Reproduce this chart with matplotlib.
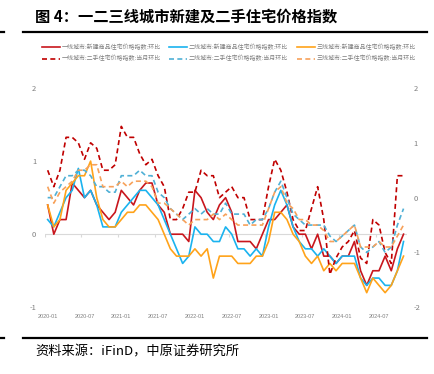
import matplotlib
matplotlib.use("Agg")
import matplotlib.pyplot as plt
from matplotlib.lines import Line2D
import numpy as np

plt.rcParams["font.family"] = ["Noto Sans CJK SC", "DejaVu Sans"]
plt.rcParams["axes.unicode_minus"] = False

# 2020-01 .. 2024-11, month-on-month %
months = ["%d-%02d" % (2020 + i // 12, i % 12 + 1) for i in range(59)]

t1_new = [0.4, 0.0, 0.2, 0.2, 0.7, 0.6, 0.5, 0.6, 0.4, 0.3,
          0.2, 0.3, 0.6, 0.5, 0.4, 0.6, 0.7, 0.7, 0.4, 0.3,
          0.0, 0.0, 0.0, -0.1, 0.6, 0.5, 0.3, 0.2, 0.4, 0.5,
          0.3, -0.1, -0.1, -0.1, -0.2, 0.0, 0.2, 0.2, 0.3, 0.4,
          0.1, 0.0, 0.0, -0.2, 0.0, -0.3, -0.3, -0.4, -0.3, -0.3,
          -0.1, -0.5, -0.7, -0.5, -0.5, -0.3, -0.5, -0.2, 0.0]
t2_new = [0.2, 0.1, 0.3, 0.5, 0.6, 0.9, 0.5, 0.6, 0.4, 0.1,
          0.1, 0.1, 0.3, 0.4, 0.5, 0.6, 0.6, 0.5, 0.4, 0.2,
          0.0, -0.2, -0.4, -0.3, 0.1, 0.0, 0.0, -0.1, -0.1, 0.1,
          0.0, -0.2, -0.2, -0.3, -0.2, -0.3, 0.1, 0.4, 0.6, 0.4,
          0.1, -0.1, -0.2, -0.2, -0.3, -0.2, -0.3, -0.4, -0.3, -0.3,
          -0.3, -0.6, -0.7, -0.6, -0.6, -0.7, -0.7, -0.5, -0.1]
t3_new = [0.4, 0.1, 0.2, 0.6, 0.7, 0.8, 0.8, 1.0, 0.5, 0.2,
          0.1, 0.1, 0.2, 0.3, 0.3, 0.4, 0.4, 0.3, 0.2, 0.0,
          -0.2, -0.3, -0.3, -0.3, -0.2, -0.3, -0.2, -0.6, -0.3, -0.3,
          -0.3, -0.4, -0.4, -0.4, -0.3, -0.3, -0.1, 0.3, 0.3, 0.2,
          0.0, -0.1, -0.3, -0.4, -0.3, -0.5, -0.4, -0.5, -0.4, -0.4,
          -0.4, -0.6, -0.8, -0.6, -0.7, -0.8, -0.7, -0.5, -0.3]
t1_old = [0.5, 0.2, 0.5, 1.1, 1.1, 1.0, 0.7, 1.0, 0.9, 0.5,
          0.5, 0.6, 1.3, 1.1, 1.1, 0.8, 0.6, 0.7, 0.4, 0.2,
          -0.4, -0.4, -0.2, 0.1, 0.1, 0.5, 0.4, 0.4, 0.0, 0.1,
          0.2, 0.0, 0.0, -0.4, -0.4, -0.4, 0.2, 0.7, 0.5, 0.1,
          -0.4, -0.6, -0.6, -0.2, 0.2, -0.4, -1.4, -1.1, -0.9, -0.8,
          -0.6, -1.1, -1.2, -0.4, -0.5, -1.0, -1.2, 0.4, 0.4]
t2_old = [0.0, 0.0, 0.2, 0.4, 0.4, 0.5, 0.5, 0.4, 0.2, 0.2,
          0.1, 0.1, 0.4, 0.4, 0.4, 0.5, 0.4, 0.4, 0.1, 0.0,
          -0.2, -0.3, -0.4, -0.3, -0.2, -0.3, -0.2, -0.3, -0.3, -0.1,
          -0.3, -0.3, -0.3, -0.5, -0.4, -0.4, -0.2, 0.1, 0.3, 0.0,
          -0.3, -0.4, -0.5, -0.5, -0.5, -0.5, -0.7, -0.8, -0.7, -0.6,
          -0.5, -0.9, -1.0, -0.9, -0.8, -1.0, -0.9, -0.5, -0.2]
t3_old = [0.2, -0.1, 0.1, 0.2, 0.3, 0.5, 0.5, 0.6, 0.6, 0.2,
          0.2, 0.2, 0.3, 0.2, 0.3, 0.3, 0.3, 0.2, -0.1, -0.1,
          -0.2, -0.3, -0.4, -0.5, -0.4, -0.4, -0.4, -0.3, -0.4, -0.3,
          -0.4, -0.5, -0.5, -0.5, -0.5, -0.5, -0.2, 0.1, 0.2, -0.1,
          -0.2, -0.4, -0.4, -0.5, -0.5, -0.6, -0.8, -0.8, -0.7, -0.6,
          -0.5, -0.9, -0.9, -0.9, -0.8, -0.9, -0.9, -0.7, -0.5]

names_new = ["一线城市:新建商品住宅价格指数:环比", "二线城市:新建商品住宅价格指数:环比",
             "三线城市:新建商品住宅价格指数:环比"]
names_old = ["一线城市:二手住宅价格指数:当月环比", "二线城市:二手住宅价格指数:当月环比",
             "三线城市:二手住宅价格指数:当月环比"]
cols_new = ["#C8161D", "#1AB3EF", "#FFA31A"]
cols_old = ["#C00000", "#4FB0D6", "#F7A15A"]

W, H = 435, 374
fig = plt.figure(figsize=(W / 100, H / 100), dpi=100)
ax = fig.add_axes([44.6 / W, 1 - 307.3 / H, 362 / W, 219.3 / H])
ax2 = ax.twinx()

x = np.arange(len(months))
dash = (0, (3, 2))
new_lines = []
for y, c, n in zip([t1_new, t2_new, t3_new], cols_new, names_new):
    new_lines += ax.plot(x, y, color=c, lw=1.2, label=n)
old_lines = []
for y, c, n in zip([t1_old, t2_old, t3_old], cols_old, names_old):
    old_lines += ax2.plot(x, y, color=c, lw=1.2, ls=dash, label=n)

ax.set_xlim(-0.5, len(months) - 0.5)
ax.set_ylim(-1, 2)
ax2.set_ylim(-2, 2)
ax.set_yticks([-1, 0, 1, 2])
ax2.set_yticks([-2, -1, 0, 1, 2])
ax.set_xticks(x[::6], months[::6])

for a in (ax, ax2):
    for s in a.spines.values():
        s.set_visible(False)
ax.tick_params(axis="y", length=0, labelsize=5.5, labelcolor="#7F7F7F", pad=6)
ax2.tick_params(axis="y", length=0, labelsize=5.5, labelcolor="#7F7F7F", pad=5)
ax.tick_params(axis="x", length=0, labelsize=4, labelcolor="#7F7F7F", pad=5)
for t in ax.get_xticklabels():
    t.set_fontfamily(["Liberation Sans", "DejaVu Sans"])

# category axis at zero
ax.axhline(0, color="#D9D9D9", lw=0.8, zorder=0)
ax.vlines(np.arange(-0.5, len(months), 6), -0.04, 0, color="#D9D9D9", lw=0.8, zorder=0)

handles = []
for a, b in zip(new_lines, old_lines):
    handles += [a, b]
fig.legend(handles, [h.get_label() for h in handles], loc="upper left",
           bbox_to_anchor=(42 / W, 1 - 44 / H), ncol=3, frameon=False,
           fontsize=4.3, handlelength=3, handletextpad=0.3, columnspacing=1.4,
           labelspacing=0.85, labelcolor="#7F7F7F", borderaxespad=0, borderpad=0)

fig.text(35 / W, 1 - 17 / H, "图 4：一二三线城市新建及二手住宅价格指数",
         fontsize=11, fontweight="bold", va="center", ha="left")
fig.text(35 / W, 1 - 352 / H, "资料来源：iFinD，中原证券研究所",
         fontsize=9.5, va="center", ha="left")
for yy in (31.5, 338):
    fig.add_artist(Line2D([23 / W, 427 / W], [1 - yy / H] * 2, color="black", lw=1.6))
    fig.add_artist(Line2D([0, 4 / W], [1 - yy / H] * 2, color="black", lw=1.6))

fig.savefig("out.png", dpi=100)
